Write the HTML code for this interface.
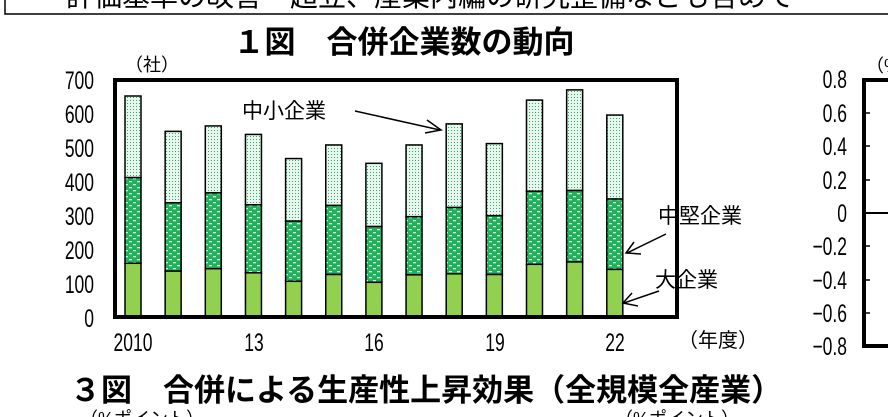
<!DOCTYPE html>
<html><head><meta charset="utf-8"><style>
html,body{margin:0;padding:0;background:#fff;}
svg{display:block;}
text{font-family:"Liberation Sans","Noto Sans CJK JP",sans-serif;fill:#000;}
</style></head><body>
<svg width="888" height="417" viewBox="0 0 888 417" xmlns="http://www.w3.org/2000/svg">
<defs>
<pattern id="pS" width="3" height="3" patternUnits="userSpaceOnUse">
<rect width="3" height="3" fill="#e6f7ee"/><rect x="1" y="1" width="1" height="1" fill="#3aa864"/>
</pattern>
<pattern id="pM" width="8" height="6" patternUnits="userSpaceOnUse">
<rect width="8" height="6" fill="#1fb25a"/><rect x="1" y="1" width="3" height="1.3" fill="#d8f5e4"/><rect x="5" y="4" width="3" height="1.3" fill="#d8f5e4"/>
</pattern>
</defs>
<rect x="5" y="-10" width="900" height="24" fill="none" stroke="#000" stroke-width="1.5"/>
<text x="66" y="6" font-size="28">評価基準の改善・超立、産業内編の研究整備なども含めて</text>
<text x="404" y="53" font-size="31" font-weight="bold" text-anchor="middle">１図　合併企業数の動向</text>
<text x="125" y="71" font-size="18">（社）</text>
<g transform="scale(0.7,1)" font-size="25" text-anchor="end">
<text x="134.3" y="89">700</text><text x="134.3" y="123">600</text><text x="134.3" y="157">500</text><text x="134.3" y="191">400</text><text x="134.3" y="225">300</text><text x="134.3" y="259">200</text><text x="134.3" y="293">100</text><text x="134.3" y="327">0</text>
</g>
<g id="bars" stroke="#000" stroke-width="1.5"></g>
<rect x="115" y="80" width="562" height="237" fill="none" stroke="#000" stroke-width="4"/>
<g transform="scale(0.7,1)" font-size="25" text-anchor="middle">
<text x="190" y="351">2010</text><text x="362.9" y="351">13</text><text x="534.3" y="351">16</text><text x="707.1" y="351">19</text><text x="878.6" y="351">22</text>
</g>
<text x="678" y="347" font-size="20">（年度）</text>
<text x="242" y="118" font-size="21">中小企業</text>
<line x1="355" y1="111" x2="440" y2="130" stroke="#000" stroke-width="1.5"/>
<path d="M427 120 L441 130 L425 133" fill="none" stroke="#000" stroke-width="1.5"/>
<text x="658" y="223" font-size="21">中堅企業</text>
<line x1="666" y1="234" x2="627" y2="253" stroke="#000" stroke-width="1.5"/>
<path d="M634 242 L626 253 L641 254" fill="none" stroke="#000" stroke-width="1.5"/>
<text x="655" y="287" font-size="21">大企業</text>
<line x1="659" y1="291" x2="624" y2="303" stroke="#000" stroke-width="1.5"/>
<path d="M632 293 L623 303 L638 306" fill="none" stroke="#000" stroke-width="1.5"/>
<text x="866" y="72" font-size="18">（%</text>
<g transform="scale(0.7,1)" font-size="25" text-anchor="end">
<text x="1210" y="88">0.8</text><text x="1210" y="122">0.6</text><text x="1210" y="155">0.4</text><text x="1210" y="189">0.2</text><text x="1210" y="222">0</text><text x="1210" y="255">−0.2</text><text x="1210" y="289">−0.4</text><text x="1210" y="322">−0.6</text><text x="1210" y="355">−0.8</text>
</g>
<path d="M888 80 L864 80 L864 346 L888 346" fill="none" stroke="#000" stroke-width="4"/>
<line x1="864" y1="213" x2="888" y2="213" stroke="#000" stroke-width="2"/>
<g stroke="#000" stroke-width="1.5">
<line x1="864" y1="113" x2="870" y2="113"/><line x1="864" y1="146" x2="870" y2="146"/><line x1="864" y1="180" x2="870" y2="180"/><line x1="864" y1="246" x2="870" y2="246"/><line x1="864" y1="280" x2="870" y2="280"/><line x1="864" y1="313" x2="870" y2="313"/>
</g>
<text x="70" y="401" font-size="31" font-weight="bold">３図　合併による生産性上昇効果（全規模全産業）</text>
<text x="80" y="425" font-size="18">（%ポイント）</text>
<text x="615" y="425" font-size="18">（%ポイント）</text>
</svg>
<script>
var d=[[650,410,158],[546,336,135],[562,365,142],[537,330,130],[466,282,105],[506,328,125],[452,266,102],[506,295,124],[568,322,127],[510,298,125],[638,370,155],[668,372,162],[594,347,140]];
var g=document.getElementById('bars'),s='',k=0.34,b=317;
d.forEach(function(v,i){var x=133+40.15*i-8,w=16;
s+='<rect x="'+x+'" y="'+(b-v[0]*k)+'" width="'+w+'" height="'+((v[0]-v[1])*k)+'" fill="url(#pS)"/>';
s+='<rect x="'+x+'" y="'+(b-v[1]*k)+'" width="'+w+'" height="'+((v[1]-v[2])*k)+'" fill="url(#pM)"/>';
s+='<rect x="'+x+'" y="'+(b-v[2]*k)+'" width="'+w+'" height="'+(v[2]*k)+'" fill="#92d050"/>';});
g.innerHTML=s;
</script>
</body></html>
